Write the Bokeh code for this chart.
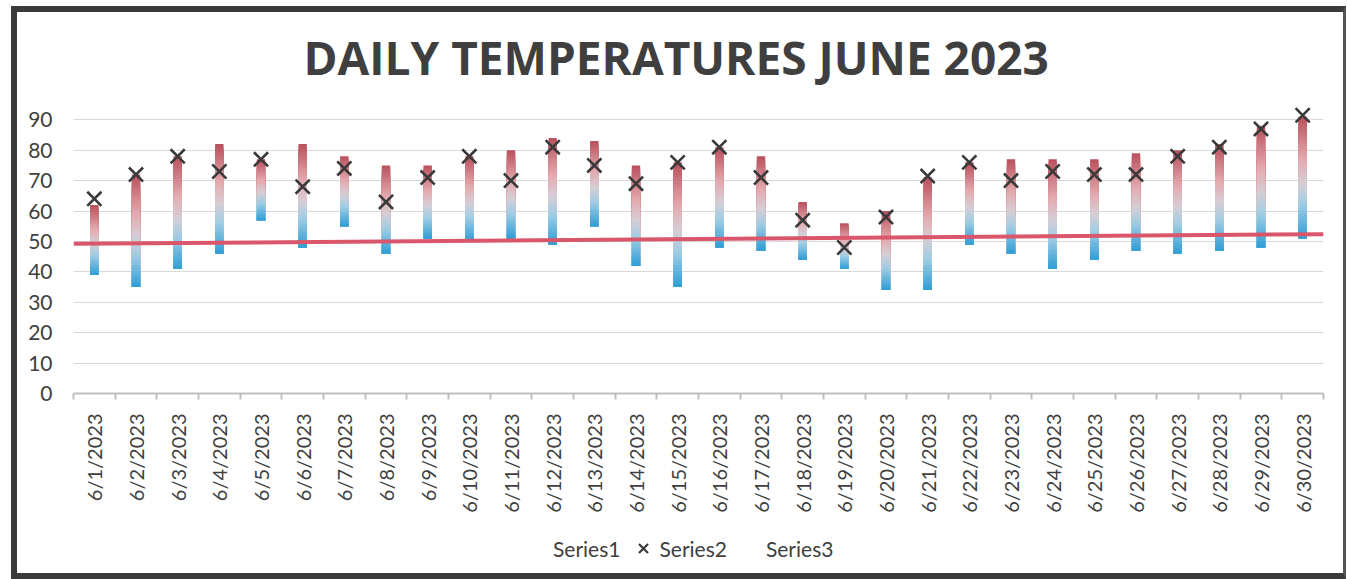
import numpy as np
from bokeh.plotting import figure
from bokeh.layouts import column
from bokeh.models import Range1d, FixedTicker, Legend, LegendItem, Title, ColumnDataSource
from bokeh.embed import file_html
from bokeh.resources import INLINE

# ---- data ----
dates = ["6/1/2023", "6/2/2023", "6/3/2023", "6/4/2023", "6/5/2023", "6/6/2023",
         "6/7/2023", "6/8/2023", "6/9/2023", "6/10/2023", "6/11/2023", "6/12/2023",
         "6/13/2023", "6/14/2023", "6/15/2023", "6/16/2023", "6/17/2023", "6/18/2023",
         "6/19/2023", "6/20/2023", "6/21/2023", "6/22/2023", "6/23/2023", "6/24/2023",
         "6/25/2023", "6/26/2023", "6/27/2023", "6/28/2023", "6/29/2023", "6/30/2023"]
highs = [62, 72, 78, 82, 77, 82, 78, 75, 75, 78, 80, 84, 83, 75, 76, 81, 78, 63, 56, 60,
         71, 76, 77, 77, 77, 79, 80, 82, 88, 91]
lows = [39, 35, 41, 46, 57, 48, 55, 46, 51, 50, 51, 49, 55, 42, 35, 48, 47, 44, 41, 34,
        34, 49, 46, 41, 44, 47, 46, 47, 48, 51]
series2 = [64, 72, 78, 73, 77, 68, 74, 63, 71, 78, 70, 81, 75, 69, 76, 81, 71, 57, 48, 58,
           71.5, 76, 70, 73, 72, 72, 78, 81, 87, 91.5]
trend_start = 49.2
trend_end = 52.4
y_ticks = [0, 10, 20, 30, 40, 50, 60, 70, 80, 90]
series_names = ["Series1", "Series2", "Series3"]

positions = list(range(1, len(dates) + 1))

# gradient stops (top -> bottom of each bar)
stop_pos = [0.0, 0.35, 0.55, 0.72, 1.0]
stop_rgb = [(184, 80, 92), (228, 170, 175), (214, 206, 214), (160, 205, 228), (46, 158, 214)]

N = 40
seg_x, seg_top, seg_bot, seg_col = [], [], [], []
for x, hi, lo in zip(positions, highs, lows):
    edges = np.linspace(hi, lo, N + 1)
    for k in range(N):
        t = (k + 0.5) / N
        rgb = [int(round(np.interp(t, stop_pos, [c[i] for c in stop_rgb]))) for i in range(3)]
        seg_x.append(x)
        seg_top.append(float(edges[k]))
        seg_bot.append(float(lo))   # each band reaches the bar foot; later bands paint over
        seg_col.append("#%02x%02x%02x" % tuple(rgb))

bars = ColumnDataSource(dict(x=seg_x, top=seg_top, bottom=seg_bot, color=seg_col))
marks = ColumnDataSource(dict(x=positions, y=series2))

W = 1326
p = figure(width=W, height=503, output_backend="svg", toolbar_location=None,
           x_range=Range1d(0.5, 30.5), y_range=Range1d(0, 97),
           min_border_left=56, min_border_right=20, min_border_top=86, min_border_bottom=20)
p.outline_line_color = None
p.background_fill_color = "white"
p.border_fill_color = "white"

p.title = Title(text="DAILY TEMPERATURES JUNE 2023", align="left",
                text_font="Open Sans", text_font_size="46px", text_font_style="bold",
                text_color="#3f3f3f", standoff=21, offset=230)

r1 = p.vbar(x="x", top="top", bottom="bottom", width=0.2, source=bars,
            fill_color="color", line_color=None)
r2 = p.scatter(x="x", y="y", source=marks, marker="x", size=20,
               line_color="#3a3a3a", line_width=2.6)
r3 = p.line(x=[0.5, 30.5], y=[trend_start, trend_end], line_color="#d9566b", line_width=4)

xa = p.xaxis[0]
xa.ticker = FixedTicker(ticks=positions, minor_ticks=[x - 0.5 for x in positions] + [positions[-1] + 0.5])
xa.major_label_overrides = {x: d for x, d in zip(positions, dates)}
xa.major_label_orientation = np.pi / 2
xa.major_tick_line_color = None
xa.minor_tick_line_color = "#c0c0c0"
xa.minor_tick_line_width = 2
xa.minor_tick_in = 0
xa.minor_tick_out = 6
xa.axis_line_color = "#c0c0c0"
xa.axis_line_width = 2
xa.major_label_text_font = "Lato"
xa.major_label_text_font_size = "20px"
xa.major_label_text_color = "#404040"
xa.major_label_standoff = 14

ya = p.yaxis[0]
ya.ticker = FixedTicker(ticks=y_ticks)
ya.axis_line_color = None
ya.major_tick_line_color = None
ya.minor_tick_line_color = None
ya.major_label_text_font = "Lato"
ya.major_label_text_font_size = "21px"
ya.major_label_text_color = "#404040"
ya.major_label_standoff = 15

p.xgrid.grid_line_color = None
p.ygrid.ticker = FixedTicker(ticks=y_ticks[1:])
p.ygrid.grid_line_color = "#d9d9d9"
p.ygrid.grid_line_width = 1

# ---- legend strip below the chart (frame edges aligned with the main plot) ----
q = figure(width=W, height=58, output_backend="svg", toolbar_location=None,
           x_range=Range1d(0, 1), y_range=Range1d(0, 1),
           x_axis_location=None, y_axis_location=None,
           min_border_left=56, min_border_right=20, min_border_top=0, min_border_bottom=0)
q.outline_line_color = None
q.xgrid.grid_line_color = None
q.ygrid.grid_line_color = None
q.border_fill_color = "white"
l1 = q.scatter(x=[-1], y=[-1], marker="square", size=10, fill_alpha=0, line_alpha=0)
l2 = q.scatter(x=[-1], y=[-1], marker="x", size=20, line_color="#3a3a3a", line_width=2.2)
l3 = q.scatter(x=[-1], y=[-1], marker="square", size=10, fill_alpha=0, line_alpha=0)

legend = Legend(items=[LegendItem(label=series_names[0], renderers=[l1]),
                       LegendItem(label=series_names[1], renderers=[l2]),
                       LegendItem(label=series_names[2], renderers=[l3])],
                orientation="horizontal", location=(448, 9),
                label_text_font="Lato", label_text_font_size="21px", label_text_color="#404040",
                glyph_width=32, glyph_height=32, label_standoff=0, spacing=7,
                border_line_color=None, background_fill_alpha=0, margin=0, padding=4)
q.add_layout(legend, "center")

layout = column(p, q, spacing=0,
                styles={"border-left": "6px solid #3b3b3b", "border-top": "6px solid #3b3b3b",
                        "border-right": "3px solid #555555", "border-bottom": "6px solid #3b3b3b",
                        "margin-left": "11px", "margin-top": "6px"})
open("out.html", "w").write(file_html(layout, INLINE))
